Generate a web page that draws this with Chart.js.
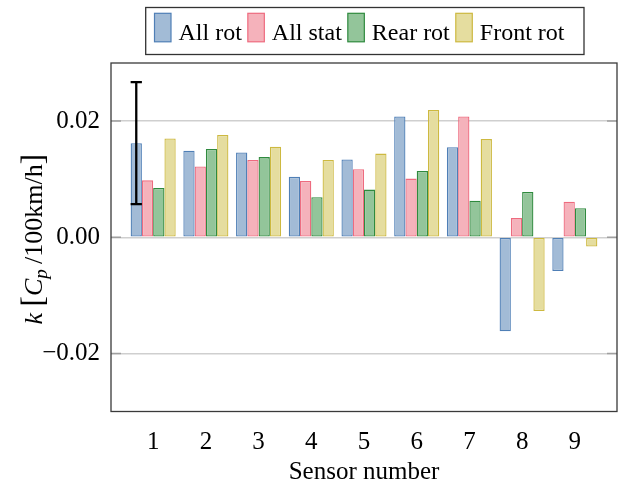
<!DOCTYPE html>
<html>
<head>
<meta charset="utf-8">
<script src="https://cdn.jsdelivr.net/npm/chart.js@4.4.1/dist/chart.umd.min.js"></script>
<style>
  html, body { margin: 0; padding: 0; background: #ffffff; }
  #wrap { width: 619px; height: 493px; position: relative; }
</style>
</head>
<body>
<div id="wrap"><canvas id="c" width="619" height="493"></canvas></div>
<script>
// Sensor numbers along the x axis
const sensors = [1, 2, 3, 4, 5, 6, 7, 8, 9];

// Slope k per configuration [Cp / 100 km/h]
const allRot   = [0.0162, 0.0149, 0.0146, 0.0104, 0.0134, 0.0208, 0.0155, -0.0162, -0.0058];
const allStat  = [0.0098, 0.0122, 0.0133, 0.0097, 0.0117, 0.0101, 0.0208, 0.0033, 0.0061];
const rearRot  = [0.0085, 0.0152, 0.0138, 0.0069, 0.0082, 0.0114, 0.0063, 0.0078, 0.0050];
const frontRot = [0.0170, 0.0176, 0.0156, 0.0133, 0.0144, 0.0219, 0.0169, -0.0127, -0.0016];

// Uncertainty (half width) shown on the "All rot" bars; null = none
const allRotErr = [0.0105, null, null, null, null, null, null, null, null];

const seriesNames = ['All rot', 'All stat', 'Rear rot', 'Front rot'];
const yTicks = [-0.02, 0.00, 0.02];

const SERIF = '"Liberation Serif", "DejaVu Serif", serif';

const toPoints = (vals) => vals.map((v, i) => ({ x: sensors[i], y: v }));

const styles = [
  { fill: 'rgba(162,187,214,1)', line: '#4f7fb6' },
  { fill: 'rgba(245,178,187,1)', line: '#ee6b7f' },
  { fill: 'rgba(147,197,154,1)', line: '#2f8a3e' },
  { fill: 'rgba(229,221,159,1)', line: '#cdb940' }
];

const seriesValues = [allRot, allStat, rearRot, frontRot];

const datasets = seriesValues.map((vals, k) => ({
  label: seriesNames[k],
  data: toPoints(vals),
  backgroundColor: styles[k].fill,
  borderColor: styles[k].line,
  borderWidth: 1.3,
  borderSkipped: false,
  categoryPercentage: 0.855,
  barPercentage: 1.0
}));

// Frame, inner tick marks
const framePlugin = {
  id: 'frame',
  afterDraw(chart) {
    const { ctx, chartArea: a, scales } = chart;
    ctx.save();
    ctx.strokeStyle = '#a0a0a0';
    ctx.lineWidth = 1.5;
    yTicks.forEach(v => {
      const y = scales.y.getPixelForValue(v);
      ctx.beginPath();
      ctx.moveTo(a.left, y); ctx.lineTo(a.left + 10, y);
      ctx.moveTo(a.right - 10, y); ctx.lineTo(a.right, y);
      ctx.stroke();
    });
    ctx.strokeStyle = '#3a3a3a';
    ctx.lineWidth = 1.3;
    ctx.strokeRect(a.left, a.top, a.right - a.left, a.bottom - a.top);
    ctx.restore();
  }
};

// Error bar drawn through the scales from the data
const errorBarPlugin = {
  id: 'errorBars',
  afterDatasetsDraw(chart) {
    const { ctx, scales } = chart;
    const meta = chart.getDatasetMeta(0);
    ctx.save();
    ctx.strokeStyle = '#000000';
    ctx.lineWidth = 2.3;
    allRotErr.forEach((e, i) => {
      if (e == null) return;
      const bar = meta.data[i];
      const x = bar.x;
      const half = bar.width / 2;
      const yHi = scales.y.getPixelForValue(allRot[i] + e);
      const yLo = scales.y.getPixelForValue(allRot[i] - e);
      ctx.beginPath();
      ctx.moveTo(x, yHi); ctx.lineTo(x, yLo);
      ctx.moveTo(x - half, yHi); ctx.lineTo(x + half, yHi);
      ctx.moveTo(x - half, yLo); ctx.lineTo(x + half, yLo);
      ctx.stroke();
    });
    ctx.restore();
  }
};

// Legend in a framed box above the axes
const legendPlugin = {
  id: 'boxLegend',
  afterDraw(chart) {
    const { ctx } = chart;
    ctx.save();
    ctx.font = '24px ' + SERIF;
    ctx.textBaseline = 'alphabetic';
    const boxW = 16.5, boxH = 28.5, gapText = 7.5, gapItem = 6;
    let x = 154.5;
    const boxTop = 13.3, baseline = 40;
    chart.data.datasets.forEach(ds => {
      ctx.fillStyle = ds.backgroundColor;
      ctx.fillRect(x, boxTop, boxW, boxH);
      ctx.strokeStyle = ds.borderColor;
      ctx.lineWidth = 1.2;
      ctx.strokeRect(x, boxTop, boxW, boxH);
      x += boxW + gapText;
      ctx.fillStyle = '#000000';
      ctx.fillText(ds.label, x, baseline);
      x += ctx.measureText(ds.label).width + gapItem;
    });
    ctx.strokeStyle = '#333333';
    ctx.lineWidth = 1.3;
    ctx.strokeRect(145.7, 7.5, 584 - 145.7, 47);
    ctx.restore();
  }
};

// Axis titles (y title has italic symbols and a subscript)
const titlePlugin = {
  id: 'axisTitles',
  afterDraw(chart) {
    const { ctx, chartArea: a } = chart;
    ctx.save();
    ctx.fillStyle = '#000000';
    ctx.font = '25px ' + SERIF;
    ctx.textAlign = 'center';
    ctx.textBaseline = 'alphabetic';
    ctx.fillText('Sensor number', (a.left + a.right) / 2, 479);

    const parts = [
      { t: 'k', f: 'italic 26px ' + SERIF, dy: 0 },
      { t: ' ', f: '26px ' + SERIF, dy: 0 },
      { t: '[', f: '31px ' + SERIF, dy: 1 },
      { t: 'C', f: 'italic 26px ' + SERIF, dy: 0 },
      { t: 'p', f: 'italic 19px ' + SERIF, dy: 5 },
      { t: '\u2009/100km/h', f: '26px ' + SERIF, dy: 0 },
      { t: ']', f: '31px ' + SERIF, dy: 1 }
    ];
    let total = 0;
    parts.forEach(p => { ctx.font = p.f; p.w = ctx.measureText(p.t).width; total += p.w; });
    ctx.translate(42, (a.top + a.bottom) / 2 + 2);
    ctx.rotate(-Math.PI / 2);
    ctx.textAlign = 'left';
    let x = -total / 2;
    parts.forEach(p => {
      ctx.font = p.f;
      ctx.fillText(p.t, x, p.dy);
      x += p.w;
    });
    ctx.restore();
  }
};

new Chart(document.getElementById('c'), {
  type: 'bar',
  data: { datasets },
  options: {
    responsive: false,
    animation: false,
    devicePixelRatio: 1,
    layout: { padding: { top: 63, right: 2, left: 0, bottom: 0 } },
    plugins: {
      legend: { display: false },
      tooltip: { enabled: false }
    },
    scales: {
      x: {
        type: 'linear',
        min: 0.2,
        max: 9.8,
        offset: false,
        grid: { display: false, offset: false },
        border: { display: false },
        afterBuildTicks: (s) => { s.ticks = sensors.map(v => ({ value: v })); },
        afterFit: (s) => { s.height = 81.5; },
        ticks: {
          padding: 8,
          color: '#000000',
          font: { family: SERIF, size: 25 },
          maxRotation: 0,
          autoSkip: false,
          callback: (v) => String(v)
        }
      },
      y: {
        min: -0.03,
        max: 0.03,
        grid: { color: '#cfcfcf', lineWidth: 1.5, drawTicks: false },
        border: { display: false },
        afterBuildTicks: (s) => { s.ticks = yTicks.map(v => ({ value: v })); },
        afterFit: (s) => { s.width = 111; },
        ticks: {
          padding: 11,
          color: '#000000',
          font: { family: SERIF, size: 25 },
          callback: (v) => (v < 0 ? '\u2212' : '') + Math.abs(v).toFixed(2)
        }
      }
    }
  },
  plugins: [framePlugin, errorBarPlugin, legendPlugin, titlePlugin]
});
</script>
</body>
</html>
